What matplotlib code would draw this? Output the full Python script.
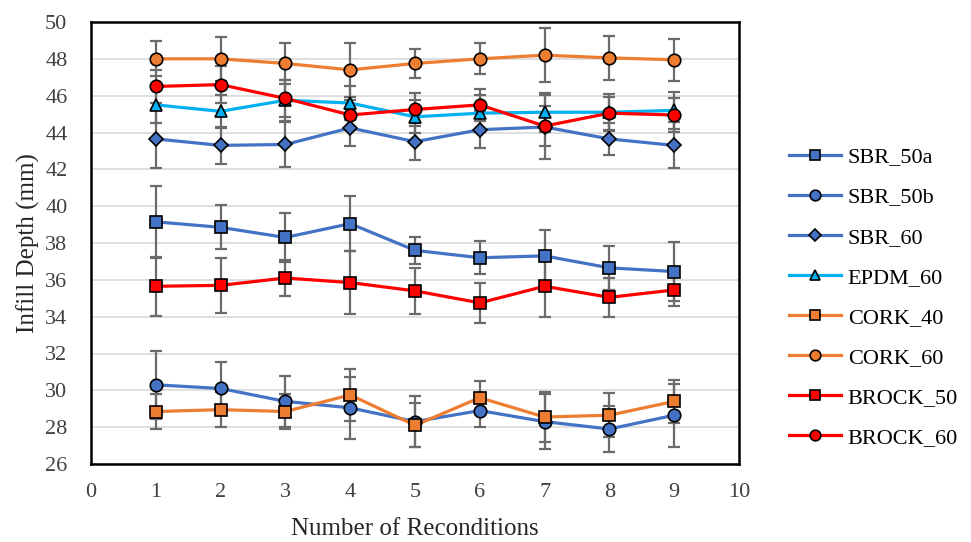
import matplotlib
matplotlib.use("Agg")
import matplotlib.pyplot as plt
from matplotlib.lines import Line2D

x = [1, 2, 3, 4, 5, 6, 7, 8, 9]

sbr_50a = [39.15, 38.85, 38.30, 39.05, 37.60, 37.20, 37.30, 36.65, 36.45]
sbr_50a_err = [1.95, 1.20, 1.35, 1.50, 0.75, 0.90, 1.40, 1.20, 1.60]

sbr_50b = [30.30, 30.10, 29.40, 29.05, 28.30, 28.90, 28.30, 27.90, 28.65]
sbr_50b_err = [1.85, 1.45, 1.40, 1.70, 1.40, 0.90, 1.50, 1.25, 1.70]

sbr_60 = [43.65, 43.30, 43.35, 44.25, 43.50, 44.15, 44.30, 43.65, 43.30]
sbr_60_err = [1.60, 1.00, 1.20, 1.00, 1.00, 1.00, 1.75, 0.85, 1.25]

epdm_60 = [45.50, 45.15, 45.75, 45.60, 44.85, 45.05, 45.10, 45.10, 45.20]
epdm_60_err = [1.00, 0.90, 1.10, 0.90, 0.90, 1.00, 1.05, 1.00, 1.00]

cork_40 = [28.85, 28.95, 28.85, 29.75, 28.10, 29.60, 28.55, 28.65, 29.40]
cork_40_err = [0.95, 0.95, 0.95, 1.40, 1.20, 0.90, 1.35, 1.20, 1.15]

cork_60 = [48.00, 48.00, 47.75, 47.40, 47.75, 48.00, 48.20, 48.05, 47.95]
cork_60_err = [0.95, 1.20, 1.10, 1.45, 0.80, 0.85, 1.45, 1.20, 1.15]

brock_50 = [35.65, 35.70, 36.10, 35.85, 35.40, 34.75, 35.65, 35.05, 35.45]
brock_50_err = [1.60, 1.50, 1.00, 1.70, 1.25, 1.10, 1.65, 1.05, 0.85]

brock_60 = [46.50, 46.60, 45.85, 44.95, 45.25, 45.50, 44.35, 45.05, 44.95]
brock_60_err = [0.90, 1.00, 1.00, 0.80, 0.90, 0.85, 1.10, 0.90, 0.90]

labels = ["SBR_50a", "SBR_50b", "SBR_60", "EPDM_60", "CORK_40", "CORK_60", "BROCK_50", "BROCK_60"]

BLUE = "#4472C4"
CYAN = "#00B0F0"
ORANGE = "#ED7D31"
RED = "#FF0000"
ERR = "#6b6b6b"

series = [
    (sbr_50a, sbr_50a_err, BLUE, "s", 8.5),
    (sbr_50b, sbr_50b_err, BLUE, "o", 9),
    (sbr_60, sbr_60_err, BLUE, "D", 7),
    (epdm_60, epdm_60_err, CYAN, "^", 8.5),
    (cork_40, cork_40_err, ORANGE, "s", 8.5),
    (cork_60, cork_60_err, ORANGE, "o", 9),
    (brock_50, brock_50_err, RED, "s", 8.5),
    (brock_60, brock_60_err, RED, "o", 9),
]

plt.rcParams["font.family"] = ["Liberation Serif", "DejaVu Serif"]

fig = plt.figure(figsize=(9.71, 5.42), dpi=100)
ax = fig.add_axes([91 / 971, 1 - 464 / 542, (739 - 91) / 971, (464 - 22) / 542])

handles = []
for i, ((vals, err, col, mk, ms), lab) in enumerate(zip(series, labels)):
    ax.errorbar(x, vals, yerr=err, fmt="none", ecolor=ERR, elinewidth=1.6,
                capsize=4.5, capthick=1.6, zorder=2 + i * 0.1)
for i, ((vals, err, col, mk, ms), lab) in enumerate(zip(series, labels)):
    ax.plot(x, vals, color=col, lw=2.3, zorder=3 + i * 0.1)
    ax.plot(x, vals, linestyle="none", marker=mk, markersize=ms, markerfacecolor=col,
            markeredgecolor="black", markeredgewidth=1.2, zorder=4 + i * 0.1)
    handles.append(Line2D([0], [0], color=col, lw=2.3, marker=mk, markersize=ms * 0.85,
                          markerfacecolor=col, markeredgecolor="black", markeredgewidth=1.2))

ax.set_xlim(0, 10)
ax.set_ylim(26, 50)
ax.set_xticks(range(0, 11))
ax.set_yticks(range(26, 51, 2))
ax.yaxis.grid(True, color="#d9d9d9", lw=1.2)
ax.set_axisbelow(True)
ax.tick_params(length=0, labelsize=16, colors="#404040")
ax.tick_params(axis="x", pad=14)
ax.tick_params(axis="y", pad=17)
for s in ax.spines.values():
    s.set_linewidth(1.8)
    s.set_color("black")

ax.set_xlabel("Number of Reconditions", fontsize=18, color="#262626", labelpad=11)
ax.set_ylabel("Infill Depth (mm)", fontsize=18, color="#262626", labelpad=4)

fig.legend(handles, labels, loc="upper left", bbox_to_anchor=(780 / 971, 1 - 138 / 542),
           frameon=False, fontsize=16, handlelength=2.35, labelspacing=0.88,
           handletextpad=0.3, borderaxespad=0)

fig.savefig("out.png", dpi=100)
